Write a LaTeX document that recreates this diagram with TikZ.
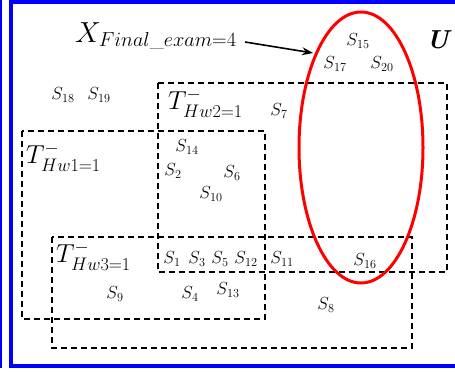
\RequirePackage{fix-cm}
\documentclass[tikz,border=0pt]{standalone}
\usepackage{amsmath}
\usetikzlibrary{arrows.meta}
\begin{document}
\begin{tikzpicture}[x=1pt,y=-1pt,
  frame/.style={draw=blue,line width=4.5pt},
  setbox/.style={draw=black,line width=1.8pt,dash pattern=on 6pt off 4pt},
  redset/.style={draw=red,line width=3pt},
  slbl/.style={inner sep=0pt,font=\fontsize{17.5}{20}\selectfont},
  tlbl/.style={inner sep=0pt,font=\fontsize{26}{28}\selectfont,anchor=west},
  arr/.style={-{Stealth[length=11pt,width=8pt]},line width=1.6pt}]
\useasboundingbox (0,0) rectangle (455,372);
% frame
\draw[blue,line width=2pt] (1,0) -- (1,368);
\draw[frame] (11,1.5) rectangle (462,366);
% sets
\draw[setbox] (158,83) rectangle (447,272);
\draw[setbox] (22,131) rectangle (265,319);
\draw[setbox] (52,237) rectangle (412,348);
\draw[redset] (361,147.5) ellipse [x radius=62, y radius=135.5];
% labels
\node[tlbl,font=\fontsize{29}{31}\selectfont] (tx) at (75,36) {$X_{Final\_exam=4}$};
\coordinate (xs) at (245,42);
\coordinate (ea) at (313,53);
\draw[arr] (xs) -- (ea);
\node[inner sep=0pt,font=\fontsize{26}{28}\selectfont] (u) at (439,40) {\textbf{\textit{U}}};
\node[tlbl] (t2) at (168,103) {$T^-_{Hw2=1}$};
\node[tlbl] (t1) at (26,157) {$T^-_{Hw1=1}$};
\node[tlbl] (t3) at (56,256) {$T^-_{Hw3=1}$};
\node[slbl] (s15) at (358,41) {$S_{15}$};
\node[slbl] (s17) at (335,64) {$S_{17}$};
\node[slbl] (s20) at (382,64) {$S_{20}$};
\node[slbl] (s18) at (63,95) {$S_{18}$};
\node[slbl] (s19) at (99,95) {$S_{19}$};
\node[slbl] (s7) at (279,111) {$S_{7}$};
\node[slbl] (s14) at (187,147) {$S_{14}$};
\node[slbl] (s2) at (173,171) {$S_{2}$};
\node[slbl] (s6) at (232,173) {$S_{6}$};
\node[slbl] (s10) at (211,194) {$S_{10}$};
\node[slbl] (s1) at (172,259) {$S_{1}$};
\node[slbl] (s3) at (197,259) {$S_{3}$};
\node[slbl] (s5) at (220,259) {$S_{5}$};
\node[slbl] (s12) at (246,259) {$S_{12}$};
\node[slbl] (s11) at (282,259) {$S_{11}$};
\node[slbl] (s16) at (365,261) {$S_{16}$};
\node[slbl] (s9) at (115,294) {$S_{9}$};
\node[slbl] (s4) at (190,294) {$S_{4}$};
\node[slbl] (s13) at (228,290) {$S_{13}$};
\node[slbl] (s8) at (326,305) {$S_{8}$};
\end{tikzpicture}
\end{document}
